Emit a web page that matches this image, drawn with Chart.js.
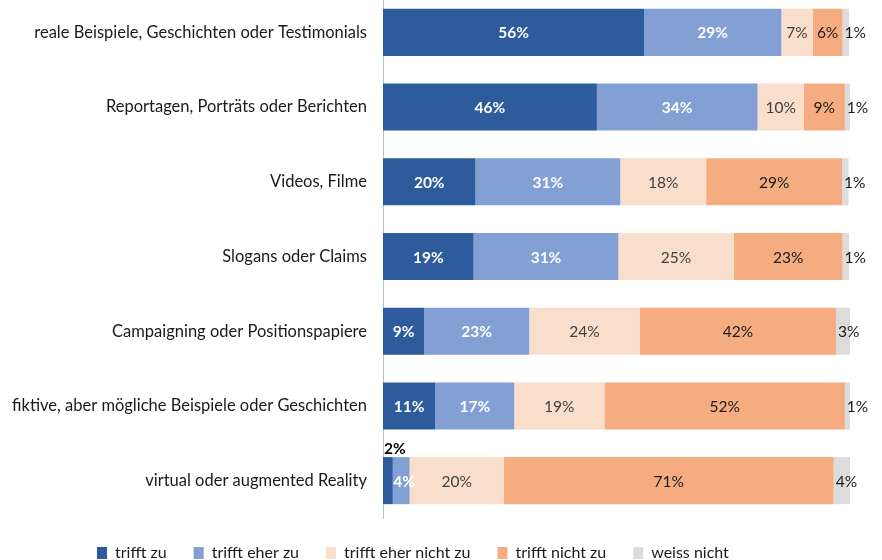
<!DOCTYPE html>
<html>
<head>
<meta charset="utf-8">
<script src="https://cdn.jsdelivr.net/npm/chart.js@4/dist/chart.umd.min.js"></script>
<style>
html,body{margin:0;padding:0;background:#fff;overflow:hidden;}
#wrap{width:882px;height:560px;position:relative;overflow:hidden;}
#c{position:absolute;left:0;top:-5px;}
</style>
</head>
<body>
<div id="wrap"><canvas id="c" width="882" height="565"></canvas></div>
<script>
const categories = [
  'reale Beispiele, Geschichten oder Testimonials',
  'Reportagen, Porträts oder Berichten',
  'Videos, Filme',
  'Slogans oder Claims',
  'Campaigning oder Positionspapiere',
  'fiktive, aber mögliche Beispiele oder Geschichten',
  'virtual oder augmented Reality'
];
const seriesNames = ['trifft zu', 'trifft eher zu', 'trifft eher nicht zu', 'trifft nicht zu', 'weiss nicht'];
const trifftZu         = [55.9, 45.8, 19.8, 19.4,  8.8, 11.2,  2.1];
const trifftEherZu     = [29.4, 34.4, 31.0, 31.0, 22.5, 16.9,  3.6];
const trifftEherNicht  = [ 6.7,  9.9, 18.4, 24.7, 23.7, 19.3, 20.2];
const trifftNicht      = [ 6.4,  8.8, 29.1, 23.3, 42.0, 51.5, 70.6];
const weissNicht       = [ 1.4,  1.1,  1.4,  1.4,  3.0,  1.1,  3.6];

const seriesValues = [trifftZu, trifftEherZu, trifftEherNicht, trifftNicht, weissNicht];
const colors = ['#2E5B9B', '#82A0D4', '#FADECC', '#F4AC80', '#DCDCDC'];
const labelColors = ['#FFFFFF', '#FFFFFF', '#404040', '#1A1A1A', '#1A1A1A'];
const labelBold = [true, true, false, false, false];
const FONT = 'Lato';

const labelPlugin = {
  id: 'segLabels',
  afterDatasetsDraw(chart) {
    const ctx = chart.ctx;
    ctx.save();
    ctx.textBaseline = 'middle';
    chart.data.datasets.forEach((ds, di) => {
      const meta = chart.getDatasetMeta(di);
      meta.data.forEach((el, i) => {
        const v = ds.data[i];
        const txt = Math.round(v) + '%';
        ctx.font = (labelBold[di] ? 'bold ' : '') + '15.5px ' + FONT;
        const left = Math.min(el.x, el.base), right = Math.max(el.x, el.base);
        const w = right - left;
        const tw = ctx.measureText(txt).width;
        if (di === seriesValues.length - 1) {
          ctx.fillStyle = labelColors[di];
          ctx.textAlign = 'left';
          ctx.fillText(txt, left + 2, el.y + 1);
        } else if (di === 0 && w < tw) {
          ctx.fillStyle = '#000';
          ctx.textAlign = 'left';
          ctx.fillText(txt, left + 1, el.y - el.height / 2 - 8);
        } else {
          ctx.fillStyle = labelColors[di];
          ctx.textAlign = 'center';
          ctx.fillText(txt, (left + right) / 2 + (w < tw ? 3 : 0), el.y + 1);
        }
      });
    });
    ctx.restore();
  }
};

const legendShift = {
  id: 'legendShift',
  afterLayout(chart) {
    const lg = chart.legend;
    if (!lg || !lg.lineWidths) return;
    const pad = lg.options.labels.padding;
    const start = (lg.left + pad + lg.right - lg.lineWidths[0]) / 2;
    const dx = 97 - start;
    lg.left += dx; lg.right += dx;
  }
};

new Chart(document.getElementById('c'), {
  type: 'bar',
  data: {
    labels: categories,
    datasets: seriesValues.map((vals, k) => ({
      label: seriesNames[k],
      data: vals,
      backgroundColor: colors[k],
      borderWidth: 0,
      barPercentage: 0.63,
      categoryPercentage: 1
    }))
  },
  options: {
    indexAxis: 'y',
    responsive: false,
    animation: false,
    layout: { padding: { top: 0, right: 32, bottom: -11, left: 0 } },
    scales: {
      x: {
        stacked: true, min: 0, max: 100, display: false
      },
      y: {
        stacked: true,
        grid: { display: true, drawOnChartArea: false, drawTicks: true, tickLength: 31, color: 'rgba(0,0,0,0)' },
        border: { display: true, color: '#BFBFBF', width: 1 },
        ticks: { color: '#1A1A1A', font: { family: FONT, size: 16.5 }, padding: -15 },
        afterFit(s) { s.width = 383; }
      }
    },
    plugins: {
      legend: {
        position: 'bottom',
        labels: {
          font: { family: FONT, size: 16 },
          color: '#1A1A1A',
          boxWidth: 10,
          boxHeight: 12,
          padding: 27
        }
      },
      tooltip: { enabled: false }
    }
  },
  plugins: [labelPlugin, legendShift]
});
</script>
</body>
</html>
